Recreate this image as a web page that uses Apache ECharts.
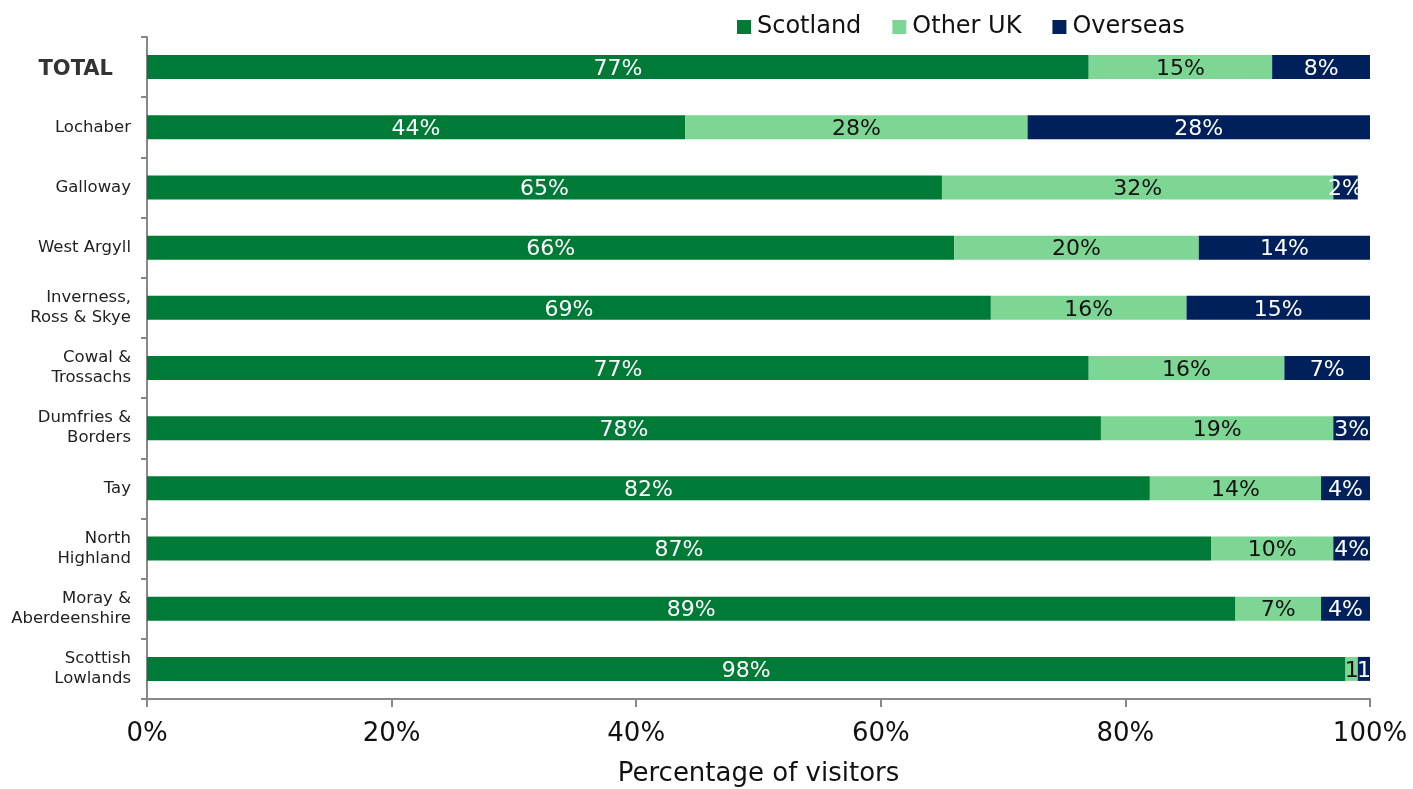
<!DOCTYPE html>
<html><head><meta charset="utf-8">
<script src="https://cdn.jsdelivr.net/npm/echarts@6/dist/echarts.min.js"></script>
<style>html,body{margin:0;padding:0;background:#fff}#c{width:1413px;height:789px}</style>
</head><body><div id="c"></div>
<script>
const categories = ['TOTAL','Lochaber','Galloway','West Argyll','Inverness,\nRoss & Skye','Cowal &\nTrossachs','Dumfries &\nBorders','Tay','North\nHighland','Moray &\nAberdeenshire','Scottish\nLowlands'];
const scotland = [77,44,65,66,69,77,78,82,87,89,98];
const otherUK  = [15,28,32,20,16,16,19,14,10,7,1];
const overseas = [8,28,2,14,15,7,3,4,4,4,1];
const xTicks = [0,20,40,60,80,100];

const FONT = 'DejaVu Sans';
function mk(name, data, color, textColor){
  return {
    name, type:'bar', stack:'a', data, barWidth:24, clip:true,
    itemStyle:{color},
    label:{show:true, position:'inside', color:textColor, fontFamily:FONT, fontSize:22, offset:[0,2],
      formatter:p => p.value >= 2 ? p.value + '%' : String(p.value)}
  };
}
const chart = echarts.init(document.getElementById('c'));
chart.setOption({
  animation:false,
  textStyle:{fontFamily:FONT},
  legend:{top:10, left:732, itemWidth:14, itemHeight:14, itemGap:31,
    textStyle:{fontSize:24, color:'#111', fontFamily:FONT, padding:[0,0,0,1]},
    data:['Scotland','Other UK','Overseas'], icon:'rect'},
  grid:{left:147, right:43, top:37, bottom:90, containLabel:false, outerBoundsMode:'none'},
  xAxis:{type:'value', min:xTicks[0], max:xTicks[xTicks.length-1], interval:20,
    axisLine:{show:true, lineStyle:{color:'#888', width:2}},
    axisTick:{show:true, length:8, lineStyle:{color:'#888', width:2}},
    splitLine:{show:false},
    axisLabel:{fontSize:26, color:'#111', margin:22, formatter:v => v + '%'},
    name:'Percentage of visitors', nameLocation:'middle', nameGap:62,
    nameTextStyle:{fontSize:26, color:'#111', fontFamily:FONT}},
  yAxis:{type:'category', inverse:true, data:categories,
    axisLine:{show:true, lineStyle:{color:'#888', width:2}},
    axisTick:{show:true, length:6, lineStyle:{color:'#888', width:2}},
    axisLabel:{margin:16, fontSize:16.5, color:'#222', lineHeight:20, align:'right',
      formatter:v => v === 'TOTAL' ? '{b|TOTAL}' : v,
      rich:{b:{fontSize:21, fontWeight:'bold', color:'#333', fontFamily:FONT, padding:[4,18,0,0]}}}},
  series:[
    mk('Scotland', scotland, '#007A37', '#fff'),
    mk('Other UK', otherUK, '#7ED694', '#111'),
    mk('Overseas', overseas, '#00205B', '#fff')
  ]
});
</script></body></html>
